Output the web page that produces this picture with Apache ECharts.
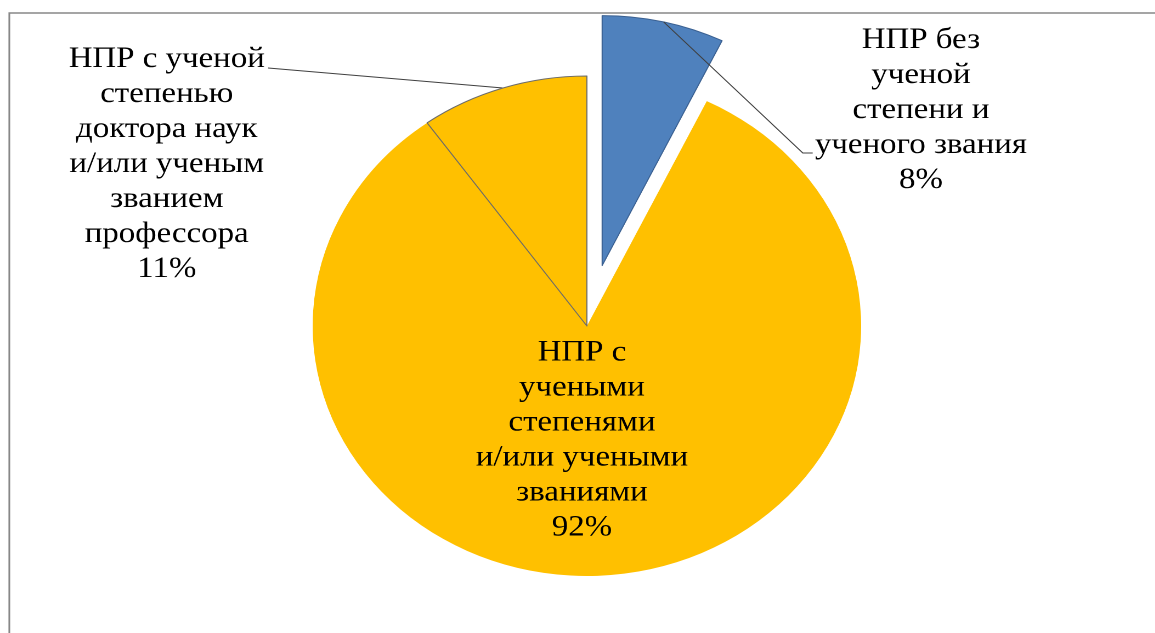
<!DOCTYPE html>
<html>
<head>
<meta charset="utf-8">
<script src="https://cdn.jsdelivr.net/npm/echarts@6/dist/echarts.min.js"></script>
<style>
  html, body { margin: 0; padding: 0; background: #ffffff; overflow: hidden; }
  #wrap { width: 1155px; height: 633px; overflow: hidden; position: relative; }
  #chart { width: 1053px; height: 633px; transform: scaleX(1.097); transform-origin: 0 0; }
</style>
</head>
<body>
<div id="wrap"><div id="chart"></div></div>
<script>
// ---- data ----
const categories = [
  'НПР без\nученой\nстепени и\nученого звания',
  'НПР с\nучеными\nстепенями\nи/или учеными\nзваниями',
  'НПР с ученой\nстепенью\nдоктора наук\nи/или ученым\nзванием\nпрофессора'
];
const values = [7.2, 82.9, 9.9];
const percentLabels = ['8%', '92%', '11%'];
const explodedIndex = 0;

// ---- styles / layout (chart px, before the horizontal stretch) ----
const colors = ['#4F81BD', '#FFC000', '#FFC000'];
const borderColors = ['#3A6091', '#FFC000', '#6B6B6B'];
const borderWidths = [1, 0, 1];
const labelPos = [[839.5, 110], [530.5, 440], [152, 164]];
const pieCenter = [535, 326];
const pieRadius = 250;
const explodeOffset = 62;
const FONT = "'Liberation Serif', 'Times New Roman', serif";
const HIDDEN = 'rgba(0,0,0,0)';

// offset of the exploded slice along its mid-angle (computed from the values)
const total = values.reduce(function (a, b) { return a + b; }, 0);
let before = 0;
for (let k = 0; k < explodedIndex; k++) before += values[k];
const midAngle = 2 * Math.PI * (before + values[explodedIndex] / 2) / total;
const explodedCenter = [
  pieCenter[0] + explodeOffset * Math.sin(midAngle),
  pieCenter[1] - explodeOffset * Math.cos(midAngle)
];

function makeData(sliceFn, labelFn) {
  return categories.map(function (name, i) {
    const vis = sliceFn(i);
    const lab = labelFn(i);
    return {
      name: name,
      value: values[i],
      itemStyle: vis
        ? { color: colors[i], borderColor: borderColors[i], borderWidth: borderWidths[i] }
        : { color: HIDDEN, borderColor: HIDDEN, borderWidth: 0 },
      label: { show: lab },
      labelLine: { show: lab && i !== 1 }
    };
  });
}

function layoutFn(p) {
  const i = p.dataIndex;
  const pos = labelPos[i];
  const w = p.labelRect.width;
  const res = { x: pos[0], y: pos[1], align: 'center', verticalAlign: 'middle' };
  if (i === 0 && p.labelLinePoints) {
    const left = pos[0] - w / 2;
    const yEnd = pos[1] + 43;
    res.labelLinePoints = [p.labelLinePoints[0], [left - 11, yEnd], [left - 2, yEnd]];
  } else if (i === 2 && p.labelLinePoints) {
    const right = pos[0] + w / 2;
    const yEnd = pos[1] - 96;
    res.labelLinePoints = [p.labelLinePoints[0], [right + 3, yEnd], [right + 3, yEnd]];
  }
  return res;
}

const labelOpt = {
  show: true,
  position: 'outside',
  formatter: function (p) { return p.name + '\n' + percentLabels[p.dataIndex]; },
  fontFamily: FONT,
  fontSize: 30,
  lineHeight: 35,
  color: '#000000',
  opacity: 1,
  align: 'center'
};

const baseSeries = {
  type: 'pie',
  radius: pieRadius,
  startAngle: 90,
  clockwise: true,
  avoidLabelOverlap: false,
  selectedMode: false,
  emphasis: { disabled: true },
  label: labelOpt,
  labelLine: { lineStyle: { color: '#3F3F3F', width: 1 } },
  labelLayout: layoutFn,
  silent: true
};

const chart = echarts.init(document.getElementById('chart'), null, { renderer: 'canvas', devicePixelRatio: 2 });

chart.setOption({
  animation: false,
  backgroundColor: '#ffffff',
  textStyle: { fontFamily: FONT },
  graphic: [{
    type: 'rect',
    shape: { x: 8.5, y: 13, width: 1200, height: 800 },
    style: { fill: 'none', stroke: '#878787', lineWidth: 1.6 },
    silent: true
  }],
  series: [
    // main pie (all slices except the exploded one), with its labels
    Object.assign({}, baseSeries, {
      z: 2,
      center: pieCenter,
      data: makeData(function (i) { return i !== explodedIndex; }, function (i) { return i !== explodedIndex; })
    }),
    // exploded slice
    Object.assign({}, baseSeries, {
      z: 2,
      center: explodedCenter,
      data: makeData(function (i) { return i === explodedIndex; }, function () { return false; })
    }),
    // label + leader line of the exploded slice, drawn above it
    Object.assign({}, baseSeries, {
      z: 3,
      center: explodedCenter,
      data: makeData(function () { return false; }, function (i) { return i === explodedIndex; })
    })
  ]
});
</script>
</body>
</html>
